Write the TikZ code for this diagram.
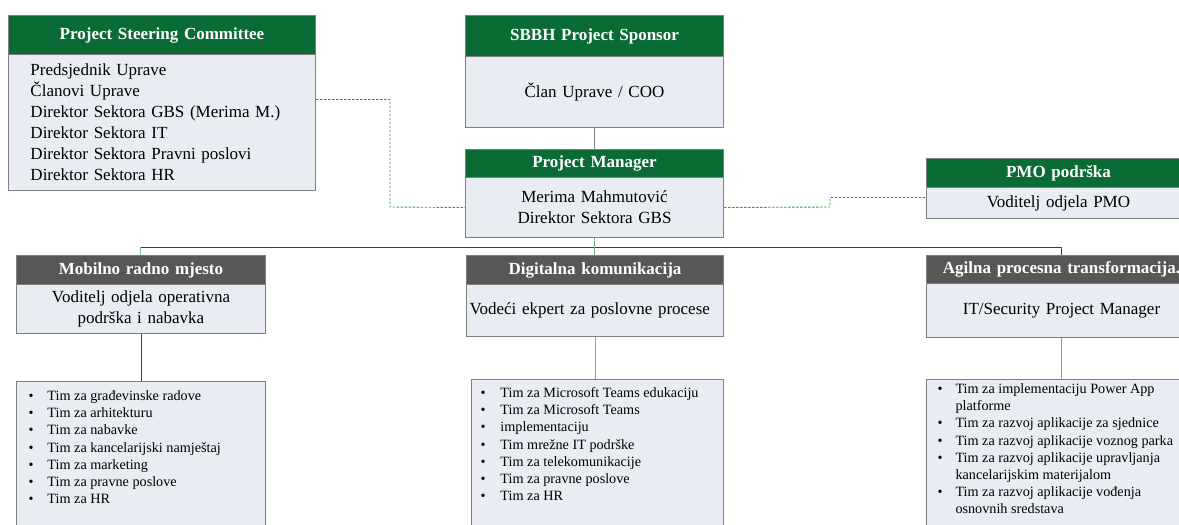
\documentclass[tikz,border=0pt]{standalone}
\usepackage{fontspec}
\setmainfont{Liberation Serif}
\definecolor{hdgreen}{HTML}{0B6B35}
\definecolor{hdgray}{HTML}{575757}
\definecolor{boxfill}{HTML}{E9ECF2}
\definecolor{boxline}{HTML}{7F7F7F}
\definecolor{linkgreen}{HTML}{74B474}
\definecolor{dashgreen}{HTML}{35994A}
\definecolor{linkteal}{HTML}{6FC7B4}
\newlength{\bulw}
\newcommand{\bul}[1]{\par\hangindent=\bulw\hangafter=1\noindent\strut\makebox[\bulw][l]{\textbullet}#1}
\begin{document}
\begin{tikzpicture}[x=1pt,y=-1pt,
  box/.style={draw=boxline,line width=1pt,anchor=north west,inner sep=0pt},
  head/.style={box,fill=hdgreen,text=white,align=center,font=\fontsize{17}{21}\selectfont\bfseries},
  subhead/.style={head,fill=hdgray},
  infobox/.style={box,fill=boxfill,align=center,font=\fontsize{17}{21}\selectfont},
  teamlist/.style={box,fill=boxfill,font=\fontsize{14.2}{17.2}\selectfont},
  graylink/.style={line width=1pt,draw=boxline},
  greenlink/.style={line width=1pt,draw=linkgreen},
  buslink/.style={line width=1pt,draw=black!75},
  teallink/.style={line width=1pt,draw=linkteal},
  dashlink/.style={line width=0.9pt,draw=dashgreen,dash pattern=on 2.5pt off 1.5pt}]
\useasboundingbox (0,0) rectangle (1179,525);
\node[head,text width=307pt,minimum height=39pt] (pschead) at (8,15) {Project Steering Committee};
\node[infobox,align=left,text width=263pt,inner xsep=22pt,minimum height=136pt] (pscbody) at (8,54)
  {Predsjednik Uprave\\Članovi Uprave\\Direktor Sektora GBS (Merima M.)\\Direktor Sektora IT\\Direktor Sektora Pravni poslovi\\Direktor Sektora HR};
\node[head,text width=258pt,minimum height=41pt] (sponsorhead) at (465,15) {SBBH Project Sponsor};
\node[infobox,text width=258pt,minimum height=71pt] (sponsorbody) at (465,56) {Član Uprave / COO};
\node[head,text width=258pt,minimum height=28pt] (pmhead) at (465,149) {Project Manager};
\node[infobox,text width=258pt,minimum height=60pt] (pmbody) at (465,177) {Merima Mahmutović\\Direktor Sektora GBS};
\node[head,text width=264pt,minimum height=29pt] (pmohead) at (926,158) {PMO podrška};
\node[infobox,text width=264pt,minimum height=31pt] (pmobody) at (926,187) {Voditelj odjela PMO};
\node[subhead,text width=249pt,minimum height=29pt] (mobhead) at (16,255) {Mobilno radno mjesto};
\node[infobox,text width=249pt,minimum height=49pt] (mobbody) at (16,284) {Voditelj odjela operativna\\podrška i nabavka};
\node[subhead,text width=257pt,minimum height=29pt] (digihead) at (466,255) {Digitalna komunikacija};
\node[infobox,align=left,text width=251pt,inner xsep=3pt,minimum height=52pt] (digibody) at (466,284) {Vodeći ekpert za poslovne procese};
\node[subhead,text width=270pt,minimum height=28pt] (agihead) at (926,255) {Agilna procesna transformacija.};
\node[infobox,text width=270pt,minimum height=54pt] (agibody) at (926,283) {IT/Security Project Manager};
\node[teamlist,inner xsep=12pt] (moblist) at (16,381) {\setlength{\bulw}{19pt}\parbox[c][150pt][t]{225pt}{\vspace*{7pt}%
  \bul{Tim za građevinske radove}
  \bul{Tim za arhitekturu}
  \bul{Tim za nabavke}
  \bul{Tim za kancelarijski namještaj}
  \bul{Tim za marketing}
  \bul{Tim za pravne poslove}
  \bul{Tim za HR}}};
\node[teamlist,inner xsep=9pt] (digilist) at (471,379) {\setlength{\bulw}{20pt}\parbox[c][152pt][t]{234pt}{\vspace*{6pt}%
  \bul{Tim za Microsoft Teams edukaciju}
  \bul{Tim za Microsoft Teams}
  \bul{implementaciju}
  \bul{Tim mrežne IT podrške}
  \bul{Tim za telekomunikacije}
  \bul{Tim za pravne poslove}
  \bul{Tim za HR}}};
\node[teamlist,inner xsep=11pt] (agilist) at (926,379) {\setlength{\bulw}{18pt}\parbox[c][152pt][t]{248pt}{\vspace*{2pt}%
  \bul{Tim za implementaciju Power App\\platforme}
  \bul{Tim za razvoj aplikacije za sjednice}
  \bul{Tim za razvoj aplikacije voznog parka}
  \bul{Tim za razvoj aplikacije upravljanja\\kancelarijskim materijalom}
  \bul{Tim za razvoj aplikacije vođenja\\osnovnih sredstava}}};
\coordinate (busL) at (140,247);
\coordinate (busR) at (agihead.north |- busL);
\draw[graylink] (sponsorbody.south) -- (pmhead.north);
\draw[buslink] (busL) -- (busR);
\draw[greenlink] (pmbody.south) -- (pmbody.south |- digihead.north);
\draw[teallink] (busL) -- (busL |- mobhead.north);
\draw[buslink] (busR) -- (agihead.north);
\draw[buslink] (mobbody.south) -- (moblist.north);
\draw[greenlink] (digibody.south) -- (digibody.south |- digilist.north);
\draw[greenlink] (agibody.south) -- (agilist.north);
\draw[dashlink] ([yshift=23pt]pscbody.east) -| (390,207) -- (pmbody.west);
\draw[dashlink] (pmbody.east) -- (830,207) |- ([yshift=5.5pt]pmobody.west);
\end{tikzpicture}
\end{document}
